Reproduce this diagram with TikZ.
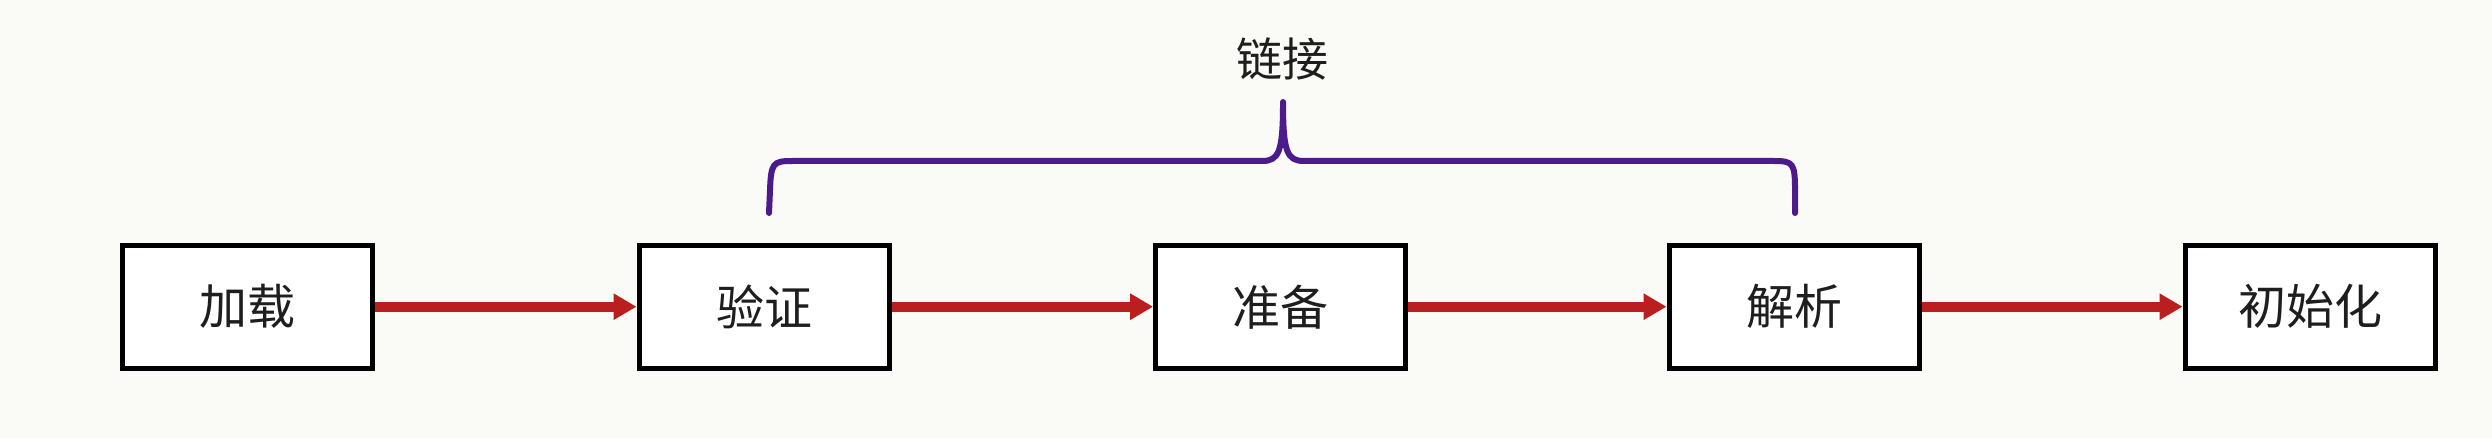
\documentclass[tikz,border=0pt]{standalone}
\usepackage{fontspec}
\newfontfamily\cjk{Noto Sans CJK SC}
\usetikzlibrary{arrows.meta}
\definecolor{bg}{RGB}{250,250,247}
\definecolor{arrowred}{RGB}{186,30,30}
\definecolor{bracepurple}{RGB}{76,26,138}
\definecolor{txt}{RGB}{30,30,30}
\begin{document}
\begin{tikzpicture}[x=0.5pt,y=-0.5pt,
  stage/.style={draw=black,line width=2.5pt,minimum width=125pt,minimum height=61.5pt,inner sep=0pt,font=\cjk\fontsize{24}{28}\selectfont,text=txt,fill=white},
  flow/.style={draw=arrowred,line width=5pt,-{Triangle[length=11.5pt,width=12.5pt]}},
  brace/.style={draw=bracepurple,line width=3pt,line cap=round,line join=round},
  lbl/.style={font=\cjk\fontsize{23}{28}\selectfont,text=txt,inner sep=0pt}]
\fill[bg] (0,0) rectangle (2492,438);
\useasboundingbox (0,0) rectangle (2492,438);

\node[stage] (b1) at (247,306.7) {加载};
\node[stage] (b2) at (764,306.7) {验证};
\node[stage] (b3) at (1280.6,306.7) {准备};
\node[stage] (b4) at (1794,306.7) {解析};
\node[stage] (b5) at (2310,306.7) {初始化};

\draw[flow] (b1) -- (b2);
\draw[flow] (b2) -- (b3);
\draw[flow] (b3) -- (b4);
\draw[flow] (b4) -- (b5);

\coordinate (bl) at (769,213);
\coordinate (br) at (1795,213);
\coordinate (tip) at (1283,102);
\draw[brace] (bl) -- (770,190) .. controls (771,163) and (773,161) .. (792,161)
  -- (1262,161) .. controls (1279,161) and (1283,152) .. (tip)
  .. controls (1283,152) and (1287,161) .. (1304,161)
  -- (1774,161) .. controls (1793,161) and (1795,163) .. (1795,190) -- (br);

\node[lbl] (link) at (1282,59) {链接};
\end{tikzpicture}
\end{document}
